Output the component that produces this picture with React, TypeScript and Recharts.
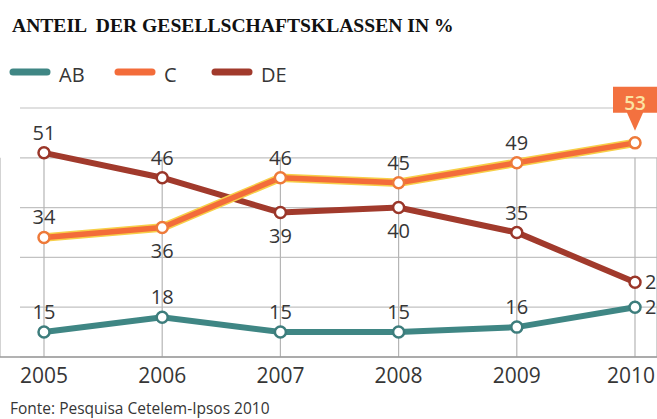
import React from 'react';
import { LineChart, Line, XAxis, YAxis, CartesianGrid, LabelList } from 'recharts';

const years = ['2005', '2006', '2007', '2008', '2009', '2010'];
const abValues = [15, 18, 15, 15, 16, 20];
const cValues = [34, 36, 46, 45, 49, 53];
const deValues = [51, 46, 39, 40, 35, 25];
const yTicks = [10, 20, 30, 40, 50];

// label placement per point (style config)
const abPlacement = ['top', 'top', 'top', 'top', 'top', 'right'];
const cPlacement = ['top', 'bottom', 'top', 'top', 'top', 'flag'];
const dePlacement = ['top', 'top', 'bottom', 'bottom', 'top', 'right'];

const COLORS = { AB: '#3f8684', C: '#f36c3a', DE: '#a13a2c' };
const TEXT = '#363636';
const FONT = '"Open Sans", sans-serif';
const CHART_W = 657;
const CHART_H = 419;

const data = years.map((year, i) => ({ year, AB: abValues[i], C: cValues[i], DE: deValues[i] }));

const legendItems = [
  { name: 'AB', color: COLORS.AB, x: 10 },
  { name: 'C', color: COLORS.C, x: 115 },
  { name: 'DE', color: COLORS.DE, x: 212 },
];

const makeLabel = (placements: string[]) => (props: any) => {
  const { x, y, value, index } = props;
  const p = placements[index];
  const common = { fontFamily: FONT, fontSize: 20, fill: TEXT };
  if (p === 'flag') {
    return (
      <g key={`flag-${index}`}>
        <path
          d={`M${x - 22},${y - 56}H${x + 22}V${y - 30}H${x + 8}L${x},${y - 12}L${x - 8},${y - 30}H${x - 22}Z`}
          fill="#f3713f"
        />
        <text x={x} y={y - 33} textAnchor="middle" fontFamily={FONT} fontSize={19} fontWeight={600} fill="#fbe3a2">
          {value}
        </text>
      </g>
    );
  }
  if (p === 'right') {
    return (
      <text key={`l-${index}`} x={x + 10} y={y + 7} textAnchor="start" {...common}>
        {value}
      </text>
    );
  }
  if (p === 'bottom') {
    return (
      <text key={`l-${index}`} x={x} y={y + 30} textAnchor="middle" {...common}>
        {value}
      </text>
    );
  }
  return (
    <text key={`l-${index}`} x={x} y={y - 13} textAnchor="middle" {...common}>
      {value}
    </text>
  );
};

const hLine = (p: any) => (
  <line key={`h-${p.index}`} x1={p.x1 + 20} y1={p.y1} x2={p.x2} y2={p.y2} stroke="#c2c2c2" strokeWidth={1.2} />
);
const vLine = (p: any) => {
  const top = p.y1 + (p.y2 - p.y1) / 5;
  return <line key={`v-${p.index}`} x1={p.x1} y1={top} x2={p.x2} y2={p.y2} stroke="#b5b5b5" strokeWidth={1.2} />;
};

const XTick = (props: any) => {
  const { x, y, payload } = props;
  const cx = Math.min(x, CHART_W - 26);
  return (
    <text x={cx} y={y + 26} textAnchor="middle" fontFamily={FONT} fontSize={21} fill={TEXT}>
      {payload.value}
    </text>
  );
};

const dotStyle = (color: string) => ({ r: 5.5, fill: '#ffffff', stroke: color, strokeWidth: 2.5 });

export default function App() {
  return (
    <div style={{ position: 'absolute', left: 0, top: 0, width: CHART_W, height: CHART_H, background: '#ffffff', overflow: 'hidden' }}>
      <div style={{ position: 'absolute', left: 0, top: 0 }}>
        <LineChart width={CHART_W} height={CHART_H} data={data} margin={{ top: 108, right: 0, bottom: 32, left: 0 }}>
          <CartesianGrid horizontal={hLine} vertical={vLine} />
          <XAxis
            dataKey="year"
            height={30}
            padding={{ left: 44, right: 22 }}
            tickLine={false}
            tickSize={0}
            tickMargin={0}
            tick={XTick}
            axisLine={{ stroke: '#9a9a9a', strokeWidth: 1.5 }}
            interval={0}
          />
          <YAxis hide domain={[10, 60]} ticks={yTicks} allowDataOverflow />
          <Line
            dataKey="AB"
            stroke={COLORS.AB}
            strokeWidth={6}
            dot={dotStyle('#3d7d7c')}
            activeDot={false}
            isAnimationActive={false}
          >
            <LabelList dataKey="AB" content={makeLabel(abPlacement)} />
          </Line>
          <Line
            dataKey="DE"
            stroke={COLORS.DE}
            strokeWidth={6}
            dot={dotStyle('#9a3629')}
            activeDot={false}
            isAnimationActive={false}
          >
            <LabelList dataKey="DE" content={makeLabel(dePlacement)} />
          </Line>
          <Line
            key="c-halo"
            dataKey="C"
            stroke="#f7cf48"
            strokeWidth={8.5}
            dot={false}
            activeDot={false}
            legendType="none"
            isAnimationActive={false}
          />
          <Line
            key="c-main"
            dataKey="C"
            stroke={COLORS.C}
            strokeWidth={5.5}
            dot={dotStyle('#ee7a3a')}
            activeDot={false}
            isAnimationActive={false}
          >
            <LabelList dataKey="C" content={makeLabel(cPlacement)} />
          </Line>
        </LineChart>
      </div>
      <svg width={CHART_W} height={CHART_H} style={{ position: 'absolute', left: 0, top: 0, pointerEvents: 'none' }}>
        <text x={12} y={32} fontFamily='"Liberation Serif", serif' fontWeight={700} fontSize={19.6} fill="#111111" style={{ whiteSpace: 'pre' }}>
          {'ANTEIL  DER GESELLSCHAFTSKLASSEN IN %'}
        </text>
        {legendItems.map((item) => (
          <g key={item.name}>
            <line x1={item.x + 3} y1={72} x2={item.x + 37} y2={72} stroke={item.color} strokeWidth={7} strokeLinecap="round" />
            <text x={item.x + 49} y={82} fontFamily={FONT} fontSize={20} fill={TEXT}>
              {item.name}
            </text>
          </g>
        ))}
        <text x={10} y={414} fontFamily={FONT} fontSize={15.5} fill={TEXT}>
          Fonte: Pesquisa Cetelem-Ipsos 2010
        </text>
      </svg>
    </div>
  );
}
